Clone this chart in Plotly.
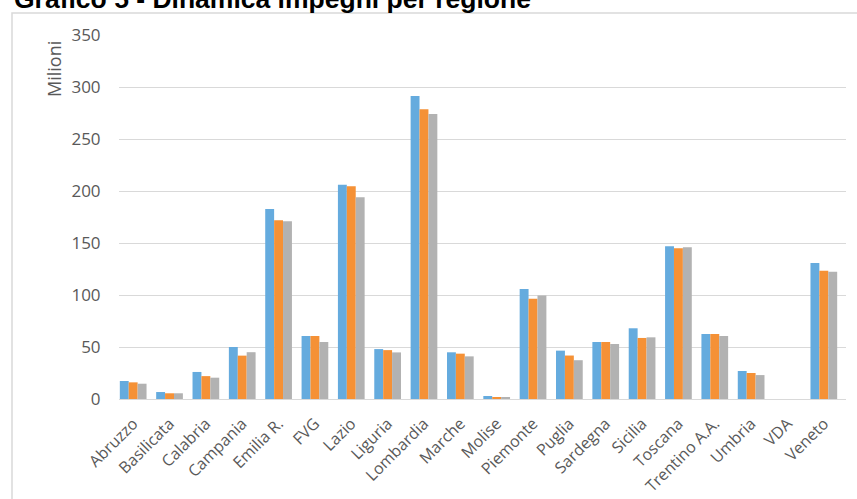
import plotly.graph_objects as go

# Impegni per regione (milioni di euro), tre serie
regioni = ["Abruzzo", "Basilicata", "Calabria", "Campania", "Emilia R.", "FVG",
           "Lazio", "Liguria", "Lombardia", "Marche", "Molise", "Piemonte",
           "Puglia", "Sardegna", "Sicilia", "Toscana", "Trentino A.A.",
           "Umbria", "VDA", "Veneto"]
serie_1 = [17.3, 6.7, 26.0, 50.0, 182.7, 60.6, 206.0, 48.0, 291.3, 44.9, 2.9,
           105.8, 46.5, 54.8, 68.0, 146.8, 62.5, 26.9, 0.0, 130.8]
serie_2 = [16.0, 5.5, 22.0, 41.7, 171.8, 60.6, 204.5, 47.0, 278.5, 43.6, 1.9,
           96.5, 41.8, 54.8, 58.7, 144.9, 62.5, 25.0, 0.0, 123.4]
serie_3 = [14.7, 5.5, 20.5, 45.0, 170.8, 54.8, 193.9, 44.8, 274.0, 41.0, 1.9,
           99.4, 37.3, 52.9, 59.3, 145.8, 60.6, 23.0, 0.0, 122.4]
nomi_serie = ["Serie 1", "Serie 2", "Serie 3"]
colori = ["#65ABDE", "#F59136", "#B2B2B2"]
y_ticks = [0, 50, 100, 150, 200, 250, 300, 350]

W, H = 857, 499
L, R, T, B = 119, 11, 35, 100
plot_w = W - L - R
plot_h = H - T - B


def px_x(px):
    return (px - L) / plot_w


def px_y(py):
    return (H - B - py) / plot_h


fig = go.Figure()
for nome, valori, colore in zip(nomi_serie, [serie_1, serie_2, serie_3], colori):
    fig.add_trace(go.Bar(x=regioni, y=valori, name=nome,
                         marker=dict(color=colore, line=dict(width=0))))

tick_font_y = dict(family="Open Sans, sans-serif", size=17, color="#595959")
tick_font_x = dict(family="Open Sans, sans-serif", size=16, color="#595959")

fig.update_layout(
    width=W, height=H,
    margin=dict(l=L, r=R, t=T, b=B, pad=0, autoexpand=False),
    paper_bgcolor="white", plot_bgcolor="white",
    barmode="group", bargap=0.265, bargroupgap=0,
    showlegend=False,
    xaxis=dict(
        type="category",
        range=[-0.39, 19.61],
        tickangle=-45,
        tickfont=tick_font_x,
        automargin=False,
        showgrid=False,
        showline=True, linecolor="#D9D9D9", linewidth=1,
        ticks="outside", ticklen=8, tickcolor="rgba(0,0,0,0)",
        fixedrange=True,
    ),
    yaxis=dict(
        range=[0, 350],
        tickvals=y_ticks,
        tickfont=tick_font_y,
        automargin=False,
        showgrid=True, gridcolor="#D9D9D9", gridwidth=1,
        zeroline=False, showline=False,
        ticks="outside", ticklen=14, tickcolor="rgba(0,0,0,0)",
        fixedrange=True,
    ),
)

# Cornice dell'area del grafico
fig.add_shape(type="rect", xref="paper", yref="paper",
              x0=px_x(12), x1=px_x(870), y0=px_y(520), y1=px_y(13),
              line=dict(color="#D9D9D9", width=1.5), fillcolor="rgba(0,0,0,0)",
              layer="below")

# Titolo
fig.add_annotation(text="<b>Grafico 5 - Dinamica impegni per regione</b>",
                   xref="paper", yref="paper", x=px_x(12), y=px_y(-1),
                   xanchor="left", yanchor="middle", showarrow=False,
                   font=dict(family="Liberation Sans, Arial, sans-serif", size=26.5, color="black"))

# Etichetta dell'asse verticale
fig.add_annotation(text="Milioni", xref="paper", yref="paper",
                   x=px_x(54), y=px_y(69), textangle=-90,
                   xanchor="center", yanchor="middle", showarrow=False,
                   font=dict(family="Open Sans, sans-serif", size=18, color="#595959"))

fig.write_html("out.html")
